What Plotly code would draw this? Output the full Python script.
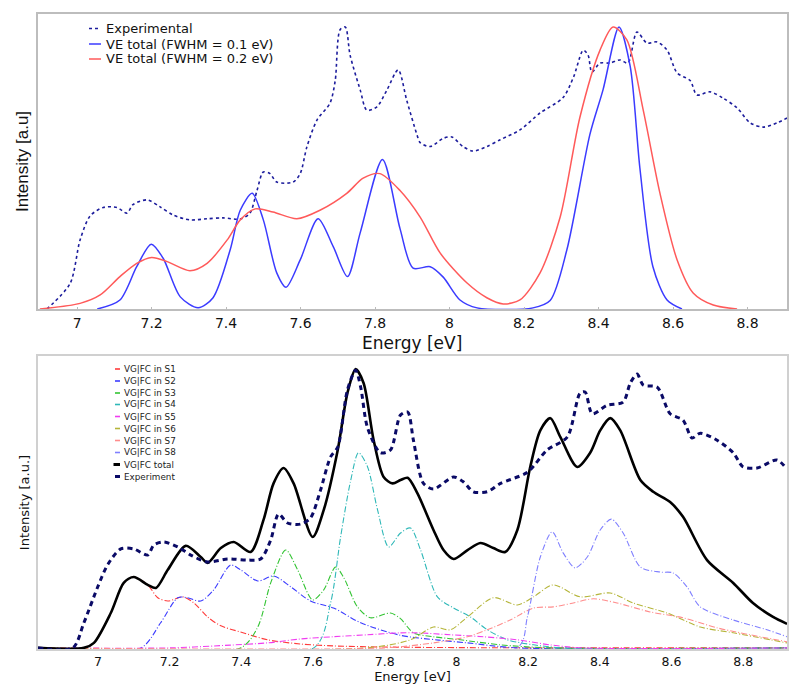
import plotly.graph_objects as go

# ---------------- Top panel data ----------------
top_exp_E = [6.919, 6.981, 7.008, 7.035, 7.07, 7.107, 7.134, 7.15, 7.188, 7.223, 7.258, 7.303, 7.349,
             7.392, 7.438, 7.464, 7.483, 7.5, 7.518, 7.536, 7.58, 7.599, 7.617, 7.644, 7.679, 7.693,
             7.706, 7.72, 7.733, 7.76, 7.778, 7.805, 7.832, 7.862, 7.885, 7.912, 7.921, 7.948, 7.983,
             8.006, 8.036, 8.063, 8.1, 8.136, 8.189, 8.243, 8.305, 8.333, 8.359, 8.372, 8.382, 8.404,
             8.43, 8.458, 8.479, 8.503, 8.53, 8.557, 8.584, 8.611, 8.646, 8.664, 8.699, 8.734, 8.772,
             8.807, 8.842, 8.879, 8.906]
top_exp_I = [0.0, 0.09, 0.245, 0.33, 0.36, 0.36, 0.34, 0.37, 0.387, 0.362, 0.333, 0.316, 0.32,
             0.323, 0.319, 0.34, 0.42, 0.486, 0.48, 0.45, 0.45, 0.48, 0.575, 0.67, 0.73, 0.81,
             0.99, 1.0, 0.9, 0.777, 0.705, 0.717, 0.777, 0.848, 0.74, 0.62, 0.59, 0.576, 0.605,
             0.61, 0.576, 0.56, 0.576, 0.6, 0.635, 0.695, 0.75, 0.823, 0.918, 0.9, 0.84, 0.872,
             0.872, 0.883, 0.872, 0.982, 0.943, 0.947, 0.918, 0.837, 0.81, 0.759, 0.77, 0.748, 0.713,
             0.66, 0.645, 0.66, 0.677]

ve01_E = [7.054, 7.115, 7.16, 7.199, 7.231, 7.277, 7.325, 7.365, 7.411, 7.438, 7.47, 7.5, 7.536,
          7.561, 7.599, 7.647, 7.688, 7.726, 7.76, 7.82, 7.867, 7.902, 7.948, 7.983, 8.028, 8.074,
          8.224, 8.27, 8.315, 8.377, 8.412, 8.455, 8.485, 8.511, 8.546, 8.584, 8.624]
ve01_I = [0.0, 0.032, 0.15, 0.23, 0.18, 0.043, 0.004, 0.04, 0.21, 0.35, 0.41, 0.316, 0.128,
          0.077, 0.174, 0.32, 0.22, 0.115, 0.27, 0.53, 0.285, 0.145, 0.15, 0.113, 0.032, 0.004,
          0.004, 0.03, 0.21, 0.62, 0.777, 1.0, 0.86, 0.5, 0.15, 0.032, 0.0]

ve02_E = [6.9, 7.008, 7.062, 7.115, 7.16, 7.2, 7.242, 7.303, 7.349, 7.403, 7.438, 7.478, 7.526,
          7.59, 7.652, 7.724, 7.768, 7.813, 7.867, 7.921, 7.975, 8.047, 8.1, 8.144, 8.189, 8.243,
          8.297, 8.35, 8.404, 8.439, 8.476, 8.52, 8.565, 8.611, 8.654, 8.708, 8.772]
ve02_I = [0.0, 0.02, 0.05, 0.115, 0.162, 0.183, 0.168, 0.136, 0.162, 0.245, 0.316, 0.355, 0.344,
          0.32, 0.35, 0.41, 0.464, 0.48, 0.42, 0.326, 0.198, 0.092, 0.04, 0.018, 0.032, 0.128,
          0.326, 0.68, 0.918, 1.0, 0.954, 0.705, 0.41, 0.174, 0.057, 0.014, 0.0]

top_names = ["Experimental", "VE total (FWHM = 0.1 eV)", "VE total (FWHM = 0.2 eV)"]
top_xticks = [7, 7.2, 7.4, 7.6, 7.8, 8, 8.2, 8.4, 8.6, 8.8]
top_xtick_labels = ["7", "7.2", "7.4", "7.6", "7.8", "8", "8.2", "8.4", "8.6", "8.8"]

# ---------------- Bottom panel data ----------------
bot_exp_E = [6.833, 6.93, 6.961, 7.0, 7.028, 7.064, 7.1, 7.139, 7.156, 7.184, 7.223, 7.259, 7.306,
             7.362, 7.418, 7.454, 7.482, 7.504, 7.529, 7.565, 7.593, 7.621, 7.649, 7.669, 7.696,
             7.719, 7.733, 7.752, 7.788, 7.816, 7.844, 7.864, 7.88, 7.908, 7.936, 7.992, 8.02,
             8.047, 8.086, 8.123, 8.198, 8.253, 8.309, 8.345, 8.359, 8.379, 8.42, 8.465, 8.485,
             8.504, 8.521, 8.56, 8.596, 8.632, 8.657, 8.68, 8.727, 8.772, 8.799, 8.838, 8.894, 8.916]
bot_exp_I = [0.0, 0.0, 0.09, 0.22, 0.3, 0.355, 0.355, 0.333, 0.369, 0.38, 0.362, 0.333, 0.308,
             0.319, 0.315, 0.319, 0.387, 0.48, 0.448, 0.444, 0.466, 0.566, 0.685, 0.72, 0.925,
             0.996, 0.935, 0.79, 0.7, 0.71, 0.835, 0.846, 0.745, 0.59, 0.57, 0.613, 0.595,
             0.56, 0.56, 0.59, 0.63, 0.71, 0.756, 0.914, 0.918, 0.84, 0.87, 0.882, 0.95,
             0.982, 0.943, 0.935, 0.84, 0.817, 0.753, 0.77, 0.745, 0.7, 0.65, 0.645, 0.674, 0.65]

tot_E = [6.833, 6.961, 6.989, 7.036, 7.072, 7.1, 7.139, 7.162, 7.195, 7.245, 7.287, 7.306, 7.343,
         7.379, 7.426, 7.462, 7.49, 7.518, 7.546, 7.599, 7.63, 7.669, 7.696, 7.719, 7.741, 7.769,
         7.797, 7.822, 7.844, 7.864, 7.891, 7.936, 7.964, 7.992, 8.031, 8.067, 8.103, 8.136, 8.17,
         8.206, 8.234, 8.262, 8.29, 8.337, 8.373, 8.401, 8.429, 8.457, 8.513, 8.549, 8.596, 8.632,
         8.699, 8.772, 8.827, 8.883, 8.922]
tot_I = [0.0, 0.0, 0.018, 0.125, 0.233, 0.254, 0.226, 0.215, 0.28, 0.366, 0.326, 0.305, 0.358,
         0.38, 0.344, 0.459, 0.59, 0.645, 0.59, 0.398, 0.495, 0.71, 0.914, 1.0, 0.95, 0.746,
         0.613, 0.59, 0.602, 0.61, 0.555, 0.423, 0.351, 0.319, 0.351, 0.376, 0.358, 0.344, 0.423,
         0.65, 0.78, 0.824, 0.756, 0.649, 0.7, 0.78, 0.824, 0.78, 0.602, 0.56, 0.523, 0.47,
         0.315, 0.233, 0.161, 0.111, 0.086]

s1_E = [6.833, 6.961, 6.989, 7.036, 7.072, 7.1, 7.139, 7.167, 7.195, 7.237, 7.268, 7.306, 7.343,
        7.398, 7.473, 7.565, 7.657, 7.8, 8.0, 8.3, 8.922]
s1_I = [0.0, 0.0, 0.018, 0.125, 0.233, 0.254, 0.226, 0.18, 0.168, 0.183, 0.161, 0.111, 0.079,
        0.057, 0.029, 0.014, 0.007, 0.003, 0.001, 0.0, 0.0]

s2_E = [6.833, 7.12, 7.175, 7.223, 7.25, 7.287, 7.323, 7.37, 7.398, 7.446, 7.49, 7.538, 7.593,
        7.657, 7.733, 7.844, 7.95, 8.03, 8.17, 8.922]
s2_I = [0.0, 0.0, 0.09, 0.18, 0.18, 0.168, 0.208, 0.297, 0.28, 0.24, 0.258, 0.219, 0.168,
        0.143, 0.09, 0.045, 0.028, 0.018, 0.0, 0.0]

s3_E = [6.833, 7.398, 7.446, 7.482, 7.524, 7.557, 7.599, 7.63, 7.663, 7.685, 7.724, 7.76, 7.816,
        7.844, 7.88, 7.936, 8.011, 8.123, 8.26, 8.922]
s3_I = [0.0, 0.0, 0.075, 0.233, 0.351, 0.28, 0.172, 0.208, 0.29, 0.254, 0.147, 0.108, 0.125,
        0.105, 0.054, 0.04, 0.029, 0.011, 0.0, 0.0]

s4_E = [6.833, 7.602, 7.649, 7.677, 7.705, 7.727, 7.752, 7.78, 7.811, 7.844, 7.872, 7.9, 7.947,
        7.992, 8.039, 8.086, 8.142, 8.215, 8.3, 8.922]
s4_I = [0.0, 0.0, 0.161, 0.398, 0.6, 0.7, 0.65, 0.495, 0.362, 0.412, 0.43, 0.351, 0.183,
        0.143, 0.111, 0.065, 0.029, 0.011, 0.0, 0.0]

s5_E = [6.833, 7.2, 7.37, 7.473, 7.565, 7.657, 7.752, 7.844, 7.891, 7.983, 8.075, 8.17, 8.26,
        8.35, 8.922]
s5_I = [0.0, 0.0, 0.01, 0.018, 0.032, 0.04, 0.047, 0.054, 0.054, 0.047, 0.04, 0.029, 0.011,
        0.0, 0.0]

s6_E = [6.833, 7.75, 7.872, 7.936, 7.983, 8.031, 8.103, 8.17, 8.215, 8.27, 8.345, 8.429, 8.493,
        8.588, 8.68, 8.772, 8.922]
s6_I = [0.0, 0.0, 0.029, 0.075, 0.065, 0.111, 0.18, 0.154, 0.183, 0.226, 0.183, 0.197, 0.161,
        0.125, 0.075, 0.054, 0.018]

s7_E = [6.833, 7.8, 7.936, 8.031, 8.086, 8.15, 8.215, 8.27, 8.326, 8.382, 8.448, 8.54, 8.632,
        8.727, 8.819, 8.922]
s7_I = [0.0, 0.0, 0.018, 0.04, 0.065, 0.1, 0.143, 0.147, 0.161, 0.176, 0.161, 0.129, 0.108,
        0.072, 0.047, 0.022]

s8_E = [6.833, 8.17, 8.198, 8.234, 8.267, 8.298, 8.331, 8.365, 8.401, 8.432, 8.465, 8.513, 8.568,
        8.604, 8.643, 8.68, 8.772, 8.866, 8.922]
s8_I = [0.0, 0.0, 0.111, 0.326, 0.416, 0.34, 0.287, 0.326, 0.423, 0.462, 0.412, 0.29, 0.272,
        0.269, 0.219, 0.147, 0.1, 0.065, 0.04]

bot_names = ["VG|FC in S1", "VG|FC in S2", "VG|FC in S3", "VG|FC in S4", "VG|FC in S5",
             "VG|FC in S6", "VG|FC in S7", "VG|FC in S8", "VG|FC total", "Experiment"]
bot_xticks = [7, 7.2, 7.4, 7.6, 7.8, 8, 8.2, 8.4, 8.6, 8.8]
bot_xtick_labels = ["7", "7.2", "7.4", "7.6", "7.8", "8", "8.2", "8.4", "8.6", "8.8"]

# ---------------- geometry (page has an 8px body margin) ----------------
OFF = 8
W, H = 800 - OFF, 699 - OFF
ML, MT = 38 - OFF, 14 - OFF
MR = W - (787 - OFF)
MB = H - (649 - OFF)
PW, PH = W - ML - MR, H - MT - MB


def px_x(px):
    return (px - OFF - ML) / PW


def px_y(py):
    return (H - MB - (py - OFF)) / PH


top_colors = ["#1c1c9c", "#3b3bff", "#ff5a5a"]
top_dash = ["3px,3px", "solid", "solid"]
comp_colors = ["#ff3b3b", "#3b3bff", "#33c433", "#2fb8b8", "#f03cf0", "#b5b53a", "#ff8c8c", "#8080ff"]
tot_color = "#000000"
bexp_color = "#0a0a66"

comp_E = [s1_E, s2_E, s3_E, s4_E, s5_E, s6_E, s7_E, s8_E]
comp_I = [s1_I, s2_I, s3_I, s4_I, s5_I, s6_I, s7_I, s8_I]

fig = go.Figure()

# top panel
top_series = [(top_exp_E, top_exp_I, 1.6), (ve01_E, ve01_I, 1.5), (ve02_E, ve02_I, 1.5)]
for (xs, ys, w), name, col, dsh in zip(top_series, top_names, top_colors, top_dash):
    fig.add_trace(go.Scatter(x=xs, y=ys, mode="lines", name=name, showlegend=False,
                             line=dict(color=col, width=w, dash=dsh, shape="spline", smoothing=0.8),
                             xaxis="x", yaxis="y"))

# bottom panel
for xs, ys, name, col in zip(comp_E, comp_I, bot_names[:8], comp_colors):
    fig.add_trace(go.Scatter(x=xs, y=ys, mode="lines", name=name, showlegend=False,
                             line=dict(color=col, width=1.1, dash="6px,2px,1px,2px", shape="spline", smoothing=0.8),
                             xaxis="x2", yaxis="y2"))
fig.add_trace(go.Scatter(x=tot_E, y=tot_I, mode="lines", name=bot_names[8], showlegend=False,
                         line=dict(color=tot_color, width=2.6, shape="spline", smoothing=0.8),
                         xaxis="x2", yaxis="y2"))
fig.add_trace(go.Scatter(x=bot_exp_E, y=bot_exp_I, mode="lines", name=bot_names[9], showlegend=False,
                         line=dict(color=bexp_color, width=3, dash="5px,4px", shape="spline", smoothing=0.8),
                         xaxis="x2", yaxis="y2"))

# ---------------- legends (compact, drawn as text + short line samples) ----------------
shapes = []
annotations = []
top_rows = [28.5, 44, 59]
for name, col, dsh, py in zip(top_names, top_colors, top_dash, top_rows):
    shapes.append(dict(type="line", xref="paper", yref="paper",
                       x0=px_x(89), x1=px_x(101), y0=px_y(py), y1=px_y(py),
                       line=dict(color=col, width=1.5, dash=dsh)))
    annotations.append(dict(text=name, xref="paper", yref="paper", x=px_x(104), y=px_y(py),
                            xanchor="left", yanchor="middle", showarrow=False,
                            font=dict(family="DejaVu Sans", size=13, color="#111")))

bot_colors = comp_colors + [tot_color, bexp_color]
bot_widths = [1.6] * 8 + [3, 3]
bot_rows = [369, 381, 393, 404.5, 416.5, 428.5, 440.5, 452.5, 464.5, 476.5]
for i, (name, col, w, py) in enumerate(zip(bot_names, bot_colors, bot_widths, bot_rows)):
    x0 = 113.5 if i == 8 else 115
    shapes.append(dict(type="line", xref="paper", yref="paper",
                       x0=px_x(x0), x1=px_x(120), y0=px_y(py), y1=px_y(py),
                       line=dict(color=col, width=w)))
    annotations.append(dict(text=name, xref="paper", yref="paper", x=px_x(122), y=px_y(py),
                            xanchor="left", yanchor="middle", showarrow=False,
                            font=dict(family="DejaVu Sans", size=8.8, color="#222")))

# top x-axis title placed to sit close under the tick labels
annotations.append(dict(text="Energy [eV]", xref="paper", yref="paper", x=px_x(412), y=px_y(343),
                        xanchor="center", yanchor="middle", showarrow=False,
                        font=dict(family="DejaVu Sans", size=17, color="#111")))

axis_common = dict(showgrid=False, zeroline=False, showline=True, mirror=True, automargin=False)

fig.update_layout(
    width=W, height=H,
    margin=dict(l=ML, r=MR, t=MT, b=MB),
    paper_bgcolor="white", plot_bgcolor="white",
    shapes=shapes, annotations=annotations,
    showlegend=False,
    xaxis=dict(domain=[0, 1], range=[6.895, 8.906], anchor="y",
               tickvals=top_xticks, ticktext=top_xtick_labels,
               ticks="inside", ticklen=2, tickcolor="#bbbbbb", tickwidth=1,
               linecolor="#bdbdbd", linewidth=2,
               tickfont=dict(family="DejaVu Sans", size=14, color="#111"),
               **axis_common),
    yaxis=dict(domain=[px_y(309), px_y(14)], range=[0, 1.046], anchor="x", showticklabels=False,
               ticks="", linecolor="#bdbdbd", linewidth=2,
               title=dict(text="Intensity [a.u]",
                          font=dict(family="Liberation Sans, Arial", size=17, color="#111"),
                          standoff=3),
               **axis_common),
    xaxis2=dict(domain=[0, 1], range=[6.833, 8.922], anchor="y2",
                tickvals=bot_xticks, ticktext=bot_xtick_labels, ticks="",
                linecolor="#d0d0d0", linewidth=1.5,
                tickfont=dict(family="DejaVu Sans", size=12.5, color="#111"),
                title=dict(text="Energy [eV]", font=dict(family="DejaVu Sans", size=13, color="#111"),
                           standoff=2),
                **axis_common),
    yaxis2=dict(domain=[0, px_y(356)], range=[-0.004, 1.047], anchor="x2", showticklabels=False,
                ticks="", linecolor="#d0d0d0", linewidth=1.5,
                title=dict(text="Intensity [a.u.]", font=dict(family="DejaVu Sans", size=13, color="#111"),
                           standoff=4),
                **axis_common),
)

fig.write_html("out.html")
